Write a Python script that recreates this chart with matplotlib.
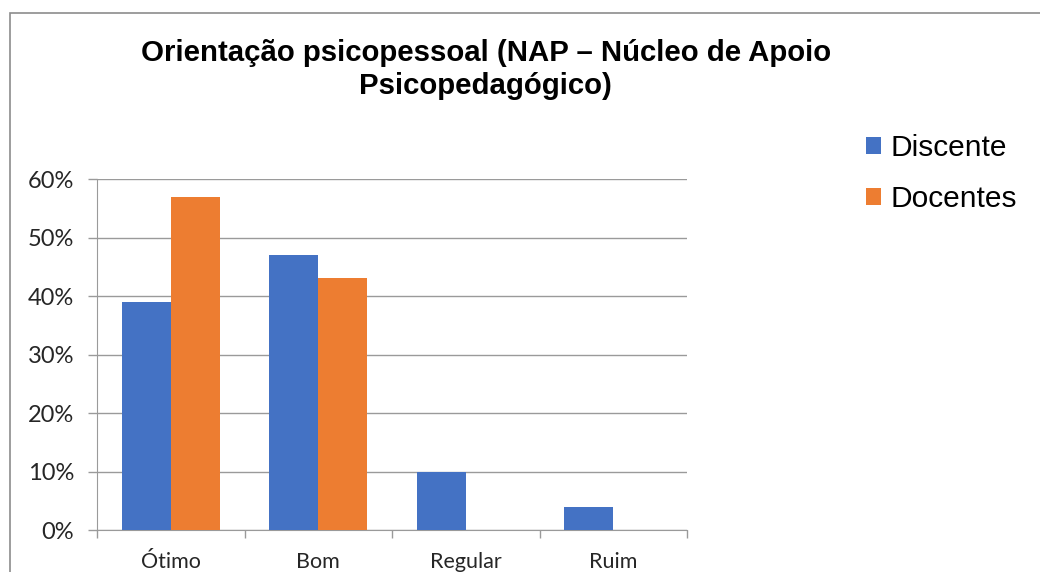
import matplotlib.pyplot as plt
import numpy as np
from matplotlib.patches import Rectangle
from matplotlib.ticker import PercentFormatter

categorias = ['Ótimo', 'Bom', 'Regular', 'Ruim']
discente = [39, 47, 10, 4]
docentes = [57, 43, 0, 0]
ticks_y = [0, 10, 20, 30, 40, 50, 60]

azul = '#4472C4'
laranja = '#ED7D31'
cinza = '#9a9a9a'

fig = plt.figure(figsize=(10.4, 5.72), dpi=100)
ax = fig.add_axes([0.0933, 0.0734, 0.5673, 0.6136])

x = np.arange(len(categorias))
w = 1 / 3
ax.bar(x - w / 2, discente, w, color=azul, label='Discente', zorder=3)
ax.bar(x + w / 2, docentes, w, color=laranja, label='Docentes', zorder=3)

ax.set_xlim(-0.5, len(categorias) - 0.5)
ax.set_ylim(0, 60)
ax.set_yticks(ticks_y)
ax.yaxis.set_major_formatter(PercentFormatter(decimals=0))
ax.grid(axis='y', color=cinza, linewidth=1, zorder=0)

# ticks do eixo x ficam entre as categorias
ax.set_xticks(np.arange(-0.5, len(categorias)), minor=False)
ax.set_xticklabels([])
ax.set_xticks(x, minor=True)
ax.set_xticklabels(categorias, minor=True, fontfamily='Lato', fontsize=15.5, color='#262626')
ax.tick_params(axis='x', which='major', length=6, color=cinza, width=1)
ax.tick_params(axis='x', which='minor', length=0, pad=16)
ax.tick_params(axis='y', length=6.5, color=cinza, width=1, labelsize=17,
               labelcolor='#262626', pad=10)
for t in ax.get_yticklabels():
    t.set_fontfamily('Lato')

for s in ['top', 'right']:
    ax.spines[s].set_visible(False)
ax.spines['left'].set_color(cinza)
ax.spines['bottom'].set_color(cinza)

fig.text(0.467, 0.878, 'Orientação psicopessoal (NAP – Núcleo de Apoio\nPsicopedagógico)',
         ha='center', va='center', fontfamily='Liberation Sans', fontweight='bold',
         fontsize=21.2, linespacing=1.22)

fig.legend(loc='upper left', bbox_to_anchor=(0.807, 0.813), frameon=False,
           prop={'family': 'Liberation Sans', 'size': 21.5}, handlelength=0.5,
           handleheight=0.5, handletextpad=0.3, labelspacing=0.78)

fig.add_artist(Rectangle((10 / 1040, -0.1), 1.2, 1 - 13 / 572 + 0.1,
                         transform=fig.transFigure, fill=False,
                         edgecolor='#8c8c8c', linewidth=1.2))

plt.savefig('out.png', dpi=100)
